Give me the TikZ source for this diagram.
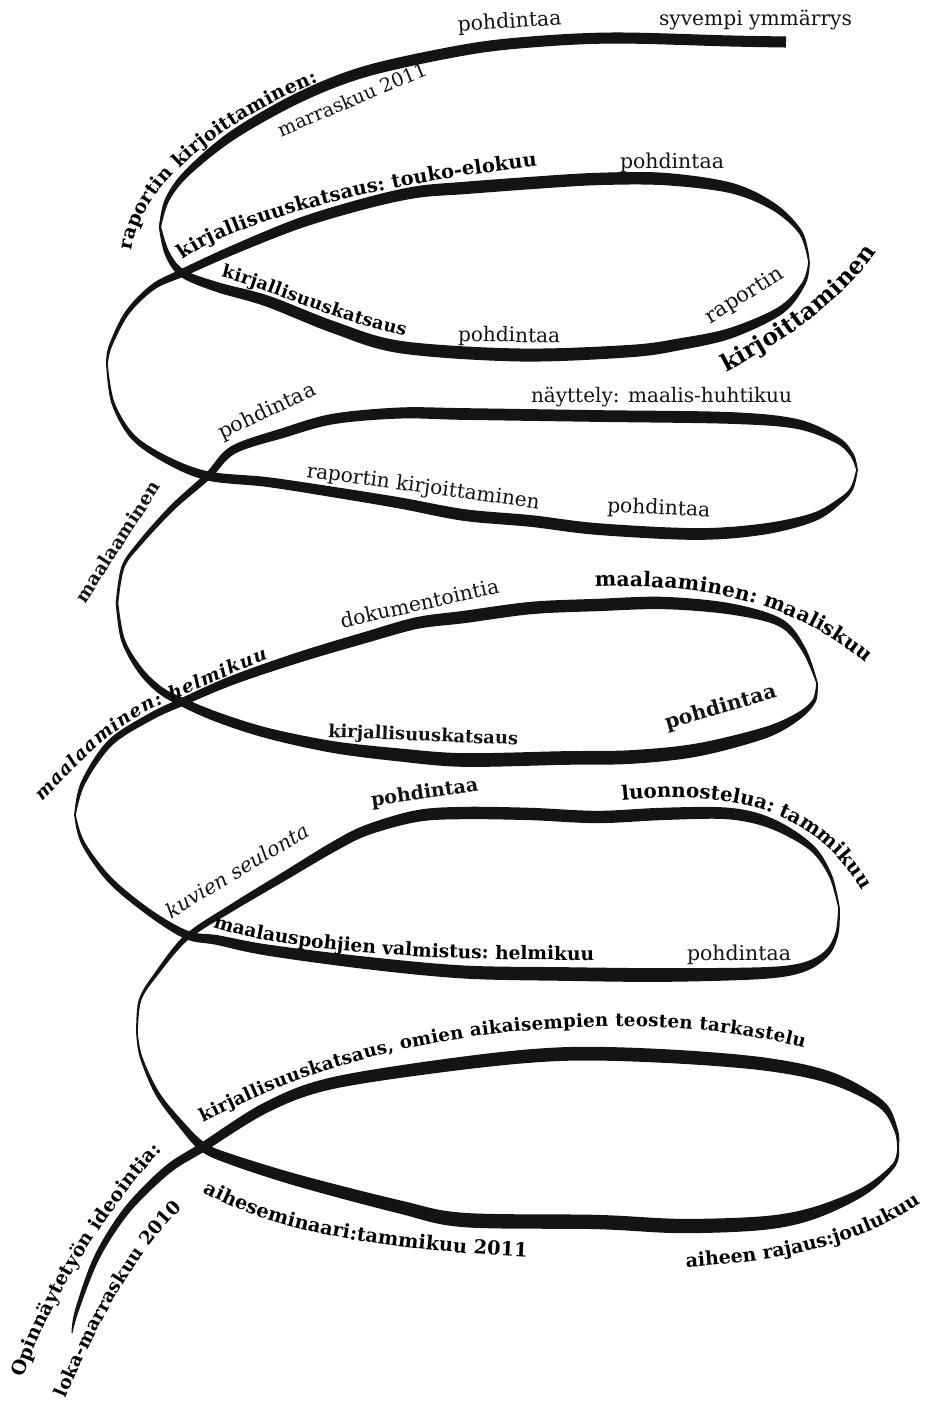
\documentclass[tikz,border=0pt]{standalone}
\usepackage{fontspec}
\setmainfont{DejaVu Serif}
\usepackage{graphicx}
\usetikzlibrary{decorations.text}
\definecolor{ink}{HTML}{141414}
\tikzset{
  ribbonfill/.style={fill=ink},
  lbl/.style={inner sep=0pt, outer sep=0pt, anchor=base west, text=ink},
}
% strip of the ribbon: list of x/y/width/direction(deg)
\newcommand\ribbonstrip[1]{%
  \gdef\rbU{}\gdef\rbL{}%
  \foreach \px/\py/\pw/\pa in {#1}{%
    \pgfmathsetmacro\rbux{\px-0.65*\pw*sin(\pa)}%
    \pgfmathsetmacro\rbuy{\py-0.65*\pw*cos(\pa)}%
    \pgfmathsetmacro\rblx{\px+0.65*\pw*sin(\pa)}%
    \pgfmathsetmacro\rbly{\py+0.65*\pw*cos(\pa)}%
    \xdef\rbU{\rbU(\rbux,\rbuy)}%
    \xdef\rbL{(\rblx,\rbly)\rbL}%
  }%
  \edef\rbcmd{\noexpand\fill[ribbonfill] plot[smooth,tension=0.55] coordinates {\rbU} -- plot[smooth,tension=0.55] coordinates {\rbL} -- cycle;}%
  \rbcmd
}
\newcommand\flatlabel[6]{%
  \node[lbl, rotate=#3] (#1) at (#2) {\resizebox{#4pt}{!}{#5#6}};}
\newcommand\curvelabel[3]{%
  \path[decorate, decoration={text along path, text align={fit to path}, text={|#1|#2}}] #3;}

\begin{document}
\begin{tikzpicture}[x=1pt, y=-1pt]
\fill[white] (0,0) rectangle (928,1401);
\useasboundingbox (0,0) rectangle (928,1401);

% ---- ribbon ----
\ribbonstrip{72/1333/0.8/78, 77/1310/3/72, 97/1257/4.5/63, 127/1210/5.5/51, 167/1170/6.5/40, 203/1147/7/32, 267/1107/8/26, 333/1083/9/13, 464/1063/10/7, 564/1054/10.5/2, 664/1056/10.5/-3, 764/1064/10/-7.5, 831/1078/9/-19, 881/1104/6/-39, 896/1130/3/-71, 898/1146/1.5/-90}
\ribbonstrip{898/1146/1.5/-90, 894/1165/3/-126, 864/1191/6/-148, 814/1213/9/-162, 764/1223/10.5/-175, 681/1226/11/179, 597/1222/11/179, 464/1220/11/176, 400/1207/10/167, 300/1181/9/164, 233/1160/8/161, 203/1147/7/145, 180/1123/5/130, 157/1093/3.5/121, 141/1057/2/106, 137/1033/1.3/90}
\ribbonstrip{137/1033/1.3/90, 140/1000/2/72, 157/973/3/53, 187/937/4.5/41, 233/907/5.5/32, 283/877/6.5/31, 333/847/7.5/29, 367/830/8/21, 417/816/9/10.5, 464/813/9.5/0, 531/814/9.5/-2, 597/817/9.5/-1, 660/814/9.5/2, 720/813/9/-3, 755/818/8.5/-13, 785/830/7/-30, 814/850/4.5/-45, 831/877/2.5/-66, 839/908/1.3/-88}
\ribbonstrip{839/908/1.3/-90, 837/933/2.5/-105, 827/953/4.5/-134, 804/967/7/-162, 764/973/9/-177, 664/975/10.5/179.5, 564/974/10.5/179, 464/972/10/177, 367/963/9.5/174, 267/950/8.5/171, 217/940/7.5/169, 187/935/6.5/158, 150/913/5/144, 110/880/4.5/134, 83/843/3/119, 75/815/1.3/90}
\ribbonstrip{75/815/1.3/90, 83/783/3.5/64, 110/743/5/45, 150/717/5.5/30, 182/702/6/24, 233/680/7/21, 300/657/8/18, 367/637/8.5/16, 417/623/9/12, 464/617/9.5/7.5, 531/608/9.5/5, 597/605/9.5/2.6, 664/603/9.5/-1.3, 731/609/8.5/-10, 781/623/6/-30, 804/650/3.5/-58, 817/683/1.3/-90}
\ribbonstrip{817/683/1.3/-90, 814/701/3/-120, 797/717/5.5/-147, 764/733/8.5/-162, 697/750/10/-170, 631/757/10.5/-177, 564/758/10.5/180, 464/760/10.5/179, 400/755/10/174, 333/747/9/170.6, 267/733/8/165.5, 217/717/7.5/160, 182/702/6.5/155, 160/690/5.5/143, 140/670/4.5/127, 123/640/3/108, 117/603/2/92}
\ribbonstrip{117/603/2/88, 123/567/2.5/68, 140/543/3.5/50, 173/507/4.5/44.6, 208/476/5.5/43.5, 233/450/6.5/31.5, 283/433/7.5/18, 333/419/8/8, 400/413/8.5/2, 464/414/9/-0.5, 597/416/9/-1, 731/418/9/-2.3, 797/424/7.5/-12, 837/440/5/-34, 852/455/3/-62, 857/470/1.3/-90}
\ribbonstrip{857/470/1.3/-90, 852/488/2.5/-118, 841/500/4/-143, 814/517/6.5/-159, 764/529/8.5/-172, 697/534/9/179, 597/529/9/175.5, 531/521/9/174, 464/515/9/171, 400/503/8.5/170, 333/492/8/171.5, 267/482/7.5/173.6, 208/476/7/169, 167/460/5.5/152.5, 133/437/4/133.5, 113/403/2.5/110, 107/365/1.3/92}
\ribbonstrip{107/365/1.3/88, 110/347/2.5/69, 127/313/3.5/54, 153/287/4.5/36, 182/273/6/25, 233/250/7/23, 300/223/8/19, 367/203/8.5/15, 417/192/9/9.4, 464/188/9.5/4.5, 531/183/9.5/4.3, 597/179/9.5/2.6, 664/179/9.5/-4, 731/188/8/-15, 774/207/5.5/-33, 801/233/3/-56.6, 809/262/1.3/-90}
\ribbonstrip{809/262/1.3/-90, 804/283/3/-120, 781/310/6/-146, 731/333/8/-162, 681/344/9/-170, 631/351/9.5/-176, 520/355/10/179, 400/347/9.5/170, 333/327/9/161, 267/301/8.5/161, 217/287/7.5/162, 182/273/6/146, 167/253/4/116, 160/227/1.8/90}
\ribbonstrip{160/227/1.8/90, 167/200/3.5/63, 187/173/5/45, 233/135/7/35, 300/97/8/26, 367/71/8.5/15.7, 464/50/8.5/9.3, 531/42/8.5/4.6, 614/38/8.5/0, 731/41/8.5/-2.3, 786/42/8.5/-1}

% ---- straight labels ----
\flatlabel{t1}{659,25}{0}{193}{}{syvempi ymmärrys}
\flatlabel{t2}{458,31}{3.3}{104}{}{pohdintaa}
\flatlabel{t3}{281,137}{23}{160}{}{marraskuu 2011}
\flatlabel{t4}{620,168}{0}{104}{}{pohdintaa}
\flatlabel{t5}{458,341}{-1}{102}{}{pohdintaa}
\flatlabel{t6}{710,324}{32}{88}{}{raportin}
\flatlabel{t7}{531,402}{0}{261}{}{näyttely: maalis-huhtikuu}
\flatlabel{t8}{222,439}{25}{105}{}{pohdintaa}
\flatlabel{t9}{306,477}{-7.8}{235}{}{raportin kirjoittaminen}
\flatlabel{t10}{607,512}{-2.8}{103}{}{pohdintaa}
\flatlabel{t11}{85,604}{57}{140}{\bfseries}{maalaaminen}
\flatlabel{t12}{342,628}{12.5}{162}{}{dokumentointia}
\flatlabel{t13}{328,737}{-2.4}{190}{\bfseries}{kirjallisuuskatsaus}
\flatlabel{t14}{667,729}{16}{115}{\bfseries}{pohdintaa}
\flatlabel{t15}{372,806}{8}{108}{\bfseries}{pohdintaa}
\flatlabel{t16}{171,919}{31}{163}{\itshape}{kuvien seulonta}
\flatlabel{t17}{687,960}{0}{104}{}{pohdintaa}

% ---- curved labels ----
\curvelabel{\bfseries\fontsize{19}{19}\selectfont}{raportin kirjoittaminen:}{(132,251) .. controls (141,172) and (253,108) .. (318,82)}
\curvelabel{\bfseries\fontsize{19.4}{19.4}\selectfont}{kirjallisuuskatsaus: touko-elokuu}{(183,260) .. controls (214,235) and (330,190) .. (537,166)}
\curvelabel{\bfseries\fontsize{17.8}{17.8}\selectfont}{kirjallisuuskatsaus}{(221,277) .. controls (262,286) and (325,318) .. (405,336)}
\curvelabel{\bfseries\fontsize{23.5}{23.5}\selectfont}{kirjoittaminen}{(726,372) .. controls (780,344) and (842,302) .. (876,252)}
\curvelabel{\bfseries\fontsize{20.2}{20.2}\selectfont}{maalaaminen: maaliskuu}{(595,587) .. controls (690,583) and (790,598) .. (866,663)}
\curvelabel{\bfseries\itshape\fontsize{18.3}{18.3}\selectfont}{maalaaminen: helmikuu}{(42,801) .. controls (78,765) and (115,722) .. (174,699) .. controls (205,687) and (235,671) .. (268,659)}
\curvelabel{\bfseries\fontsize{19.8}{19.8}\selectfont}{luonnostelua: tammikuu}{(622,800) .. controls (700,793) and (805,793) .. (862,890)}
\curvelabel{\bfseries\fontsize{18.6}{18.6}\selectfont}{maalauspohjien valmistus: helmikuu}{(213,927) .. controls (270,946) and (380,961) .. (592,960)}
\curvelabel{\bfseries\fontsize{18.2}{18.2}\selectfont}{kirjallisuuskatsaus, omien aikaisempien teosten tarkastelu}{(203,1122) .. controls (263,1092) and (340,1057) .. (470,1037) .. controls (600,1019) and (720,1025) .. (804,1048)}
\curvelabel{\bfseries\fontsize{19}{19}\selectfont}{Opinnäytetyön ideointia:}{(24,1378) .. controls (42,1315) and (102,1214) .. (162,1150)}
\curvelabel{\bfseries\fontsize{18.4}{18.4}\selectfont}{loka-marraskuu 2010}{(66,1398) .. controls (92,1335) and (132,1257) .. (182,1208)}
\curvelabel{\bfseries\fontsize{19.3}{19.3}\selectfont}{aiheseminaari:tammikuu 2011}{(203,1192) .. controls (250,1217) and (320,1247) .. (527,1257)}
\curvelabel{\bfseries\fontsize{19}{19}\selectfont}{aiheen rajaus:joulukuu}{(686,1267) .. controls (758,1263) and (846,1252) .. (917,1206)}
\end{tikzpicture}
\end{document}
